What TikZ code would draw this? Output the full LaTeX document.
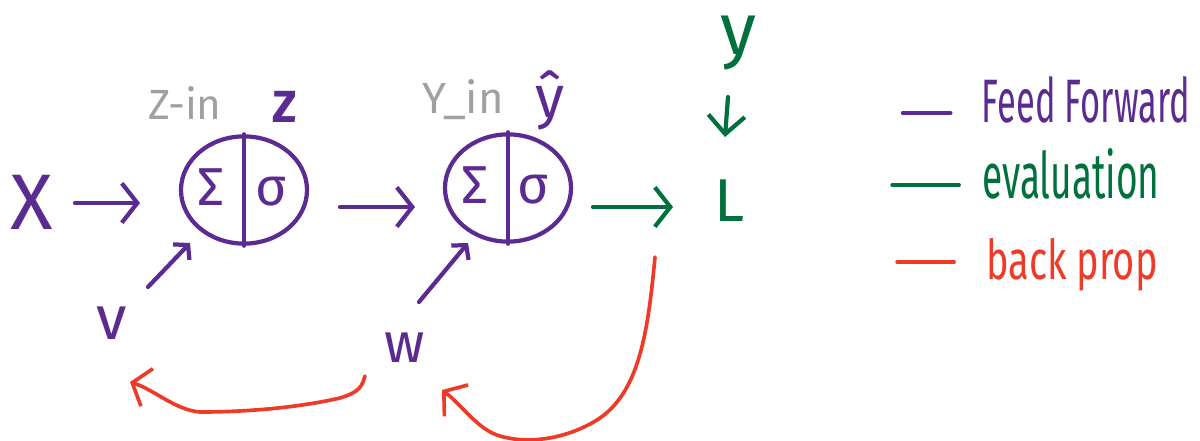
\documentclass[tikz,border=0pt]{standalone}
\usepackage{fontspec}
\setmainfont{Fira Sans}
\usepackage{graphicx}
\usetikzlibrary{arrows.meta,shapes.geometric,calc}
\definecolor{ffc}{RGB}{91,43,145}
\definecolor{evc}{RGB}{0,112,60}
\definecolor{bpc}{RGB}{238,58,38}
\definecolor{grc}{RGB}{160,160,160}
\begin{document}
\begin{tikzpicture}[x=0.025cm,y=-0.025cm,
  ff/.style={draw=ffc, line width=3pt, line cap=round, line join=round},
  ev/.style={draw=evc, line width=3pt, line cap=round, line join=round},
  bp/.style={draw=bpc, line width=2.6pt, line cap=round, line join=round},
  bigtip/.style={-{Straight Barb[length=11pt,width=28pt]}},
  smalltip/.style={-{Straight Barb[length=7pt,width=16pt]}},
  neuron/.style={ellipse, draw=ffc, line width=3pt, minimum width=3.15cm, minimum height=2.68cm, inner sep=0pt},
  lbl/.style={inner sep=0pt, text=#1},
  legendtext/.style={inner sep=0pt, text=#1}
]
\useasboundingbox (0,0) rectangle (1200,440);

% nodes
\node[lbl=ffc] (X) at (32,202) {\fontsize{56}{60}\selectfont X};
\node[neuron] (n1) at (244,190) {};
\node[neuron] (n2) at (508,188) {};
\draw[ff] (n1.north) -- (n1.south);
\draw[ff] (n2.north) -- (n2.south);
\node[lbl=ffc] (s1) at (211,187) {\fontsize{38}{40}\selectfont Σ};
\node[lbl=ffc] (g1) at (271,192) {\fontsize{38}{40}\selectfont σ};
\node[lbl=ffc] (s2) at (475,185) {\fontsize{38}{40}\selectfont Σ};
\node[lbl=ffc] (g2) at (533,190) {\fontsize{38}{40}\selectfont σ};

\node[lbl=grc] (zin) at (185,103) {\fontsize{30}{32}\selectfont Z-in};
\node[lbl=ffc] (z) at (285,107) {\fontsize{32}{34}\selectfont\bfseries Z};
\node[lbl=grc] (yin) at (463,100) {\fontsize{31}{33}\selectfont Y\_in};
\node[lbl=ffc] (yhat) at (550,100) {\fontsize{42}{44}\selectfont ŷ};

\node[lbl=evc] (L) at (730,201) {\fontsize{43}{45}\selectfont L};
\node[lbl=evc] (y) at (738,43) {\fontsize{52}{54}\selectfont y};

\node[lbl=ffc] (v) at (112,323) {\fontsize{44}{46}\selectfont v};
\node[lbl=ffc] (w) at (405,348) {\fontsize{40}{42}\selectfont w};

% legend
\node[legendtext=ffc] (lt1) at (1086,100) {\resizebox{5.2cm}{1.15cm}{Feed Forward}};
\node[legendtext=evc] (lt2) at (1071,174) {\resizebox{4.43cm}{1.25cm}{evaluation}};
\node[legendtext=bpc] (lt3) at (1072,265) {\resizebox{4.28cm}{1.03cm}{back prop}};
\draw[ff, line width=2.6pt] ($(lt1.west)+(-79,13)$) -- ($(lt1.west)+(-31,13)$);
\draw[ev, line width=2.6pt] ($(lt2.west)+(-90,11)$) -- ($(lt2.west)+(-23,11)$);
\draw[bp, line width=2.6pt] ($(lt3.west)+(-89,-3)$) -- ($(lt3.west)+(-32,-3)$);

% feed forward connectors
\draw[ff, bigtip] ($(X.center)+(43,1)$) -- ($(n1.center)+(-104,13)$);
\draw[ff, bigtip] ($(n1.center)+(96,17)$) -- ($(n2.center)+(-93,19)$);
\draw[ff, smalltip] ($(v.center)+(36,-36)$) -- ($(n1.center)+(-54,53)$);
\draw[ff, smalltip] ($(w.center)+(14,-46)$) -- ($(n2.center)+(-40,55)$);

% evaluation connectors
\draw[ev, bigtip] ($(n2.center)+(85,19)$) -- ($(L.center)+(-57,6)$);
\draw[ev, -{Straight Barb[length=13pt,width=26pt]}] ($(y.center)+(-10,54)$) -- ($(L.center)+(-5,-64)$);

% back prop connectors
\draw[bp, bigtip] ($(w.center)+(-40,28)$) .. controls (362,386) and (360,392) .. (340,398)
   .. controls (310,405) and (260,412) .. (200,412)
   .. controls (175,410) and (155,390) .. ($(v.center)+(18,59)$);
\draw[bp, bigtip] ($(L.center)+(-75,56)$) .. controls (648,330) and (640,390) .. (600,418)
   .. controls (570,438) and (530,445) .. (500,436)
   .. controls (478,430) and (462,405) .. ($(w.center)+(37,42)$);
\end{tikzpicture}
\end{document}
